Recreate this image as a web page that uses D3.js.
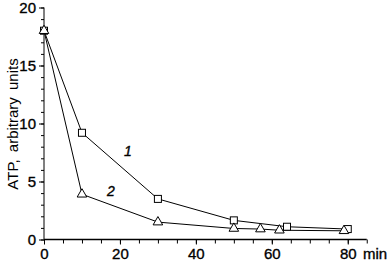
<!DOCTYPE html>
<html><head><meta charset="utf-8">
<script src="https://cdn.jsdelivr.net/npm/d3@7"></script>
<style>body{margin:0;background:#fff}svg{display:block}</style>
</head><body>
<script>
const s1x = [0, 10, 30, 50, 64, 80];
const s1y = [18, 9.2, 3.5, 1.65, 1.1, 0.9];
const s2x = [0, 10, 30, 50, 57, 62, 79];
const s2y = [18, 3.9, 1.5, 0.95, 0.9, 0.8, 0.75];
const xTicks = [0, 20, 40, 60, 80];
const yTicks = [0, 5, 10, 15, 20];
const xLabel = "min";
const yLabel = "ATP, arbitrary units";
const seriesLabels = ["1", "2"];

const W = 387, H = 263;
const svg = d3.select("body").append("svg").attr("width", W).attr("height", H);
const x = d3.scaleLinear().domain([0, 85]).range([44, 44 + 303.75 * 85 / 80]);
const y = d3.scaleLinear().domain([0, 20]).range([239.5, 7.5]);
const font = "'Liberation Sans', Arial, sans-serif";

function styleText(sel, size) {
  sel.attr("font-family", font).attr("font-size", size).attr("fill", "#000")
     .attr("stroke", "#000").attr("stroke-width", 0.35);
}

// x axis
const xa = svg.append("g").attr("transform", `translate(0,${y(0)})`)
  .call(d3.axisBottom(x).tickValues(d3.range(0, 86, 5)).tickSize(4).tickFormat(""));
xa.select(".domain").attr("stroke-width", 1.6).attr("d", `M${x(0)},0H${x(85)}`);
xa.selectAll(".tick line").attr("stroke-width", 1);
const xb = svg.append("g").attr("transform", `translate(0,${y(0)})`)
  .call(d3.axisBottom(x).tickValues(xTicks).tickSize(5).tickPadding(4).tickFormat(d3.format("d")));
xb.select(".domain").remove();
styleText(xb.selectAll("text"), 15);

// y axis
const ya = svg.append("g").attr("transform", `translate(${x(0)},0)`)
  .call(d3.axisLeft(y).tickValues(d3.range(0, 21, 1)).tickSize(3).tickFormat(""));
ya.select(".domain").attr("d", `M0,${y(0)}V${y(20)}`).attr("stroke-width", 1);
const yb = svg.append("g").attr("transform", `translate(${x(0)},0)`)
  .call(d3.axisLeft(y).tickValues(yTicks).tickSize(5).tickPadding(3));
yb.select(".domain").remove();
styleText(yb.selectAll("text"), 15);

styleText(svg.append("text").attr("x", 375).attr("y", 259).attr("text-anchor", "middle").text(xLabel), 15);
svg.append("text").attr("transform", `translate(18,${124}) rotate(-90)`)
  .attr("text-anchor", "middle").attr("font-family", font).attr("font-size", 15)
  .attr("word-spacing", 3).text(yLabel);

const line = d3.line().x(d => x(d[0])).y(d => y(d[1]));
const d1 = s1x.map((v, i) => [v, s1y[i]]);
const d2 = s2x.map((v, i) => [v, s2y[i]]);
svg.append("path").attr("d", line(d1)).attr("fill", "none").attr("stroke", "#000").attr("stroke-width", 1);
svg.append("path").attr("d", line(d2)).attr("fill", "none").attr("stroke", "#000").attr("stroke-width", 1);

svg.selectAll(".sq").data(d1).enter().append("rect")
  .attr("x", d => x(d[0]) - 3.5).attr("y", d => y(d[1]) - 3.5).attr("width", 7).attr("height", 7)
  .attr("fill", "#fff").attr("stroke", "#000").attr("stroke-width", 1);
const tri = d3.symbol().type(d3.symbolTriangle).size(40);
svg.selectAll(".tr").data(d2).enter().append("path")
  .attr("d", tri).attr("transform", d => `translate(${x(d[0])},${y(d[1])})`)
  .attr("fill", "#fff").attr("stroke", "#000").attr("stroke-width", 1);

styleText(svg.append("text").attr("x", 128).attr("y", 156).attr("text-anchor", "middle")
  .attr("font-style", "italic").text(seriesLabels[0]), 14);
styleText(svg.append("text").attr("x", 111).attr("y", 196).attr("text-anchor", "middle")
  .attr("font-style", "italic").text(seriesLabels[1]), 14);
</script>
</body></html>
